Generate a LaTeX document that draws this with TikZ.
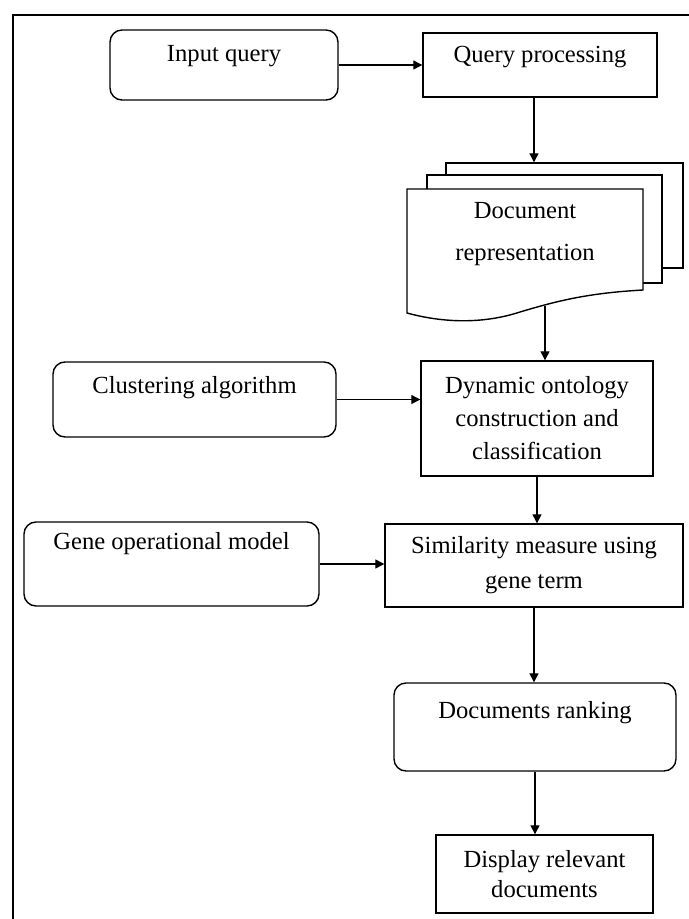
\documentclass[tikz,border=0pt]{standalone}
\usepackage{fontspec}
\setmainfont{Liberation Serif}
\usepackage{tikz}
\usetikzlibrary{arrows.meta}
\tikzstyle{proc}=[rectangle, draw, line width=0.7pt, align=center,
  font=\fontsize{12.3}{16.5}\selectfont, inner sep=2pt]
\tikzstyle{soft}=[proc, rounded corners=6pt, text height=9pt]
\tikzstyle{page}=[rectangle, draw, line width=0.7pt, fill=white]
\tikzstyle{arrow}=[-{Triangle[length=4.5pt,width=4.5pt]}, line width=0.6pt]

\begin{document}
\begin{tikzpicture}[x=0.5pt, y=-0.5pt]
    \useasboundingbox (0,0) rectangle (689,919);

    % frame, cut at the right and bottom
    \draw[line width=1pt] (13,919) -- (13,15) -- (689,15);

    % Row 1: query in, query processing
    \node[soft, minimum width=114pt, minimum height=35pt, text depth=12pt] (inq) at (224,65) {Input query};
    \node[proc, minimum width=117pt, minimum height=32pt, text height=9pt, text depth=11pt] (qp) at (540,65) {Query processing};

    % stacked document pages
    \node[page, minimum width=118.5pt, minimum height=52.5pt] (back) at (564.5,215.5) {};
    \node[page, minimum width=117.5pt, minimum height=54pt] (mid) at (544.5,229) {};
    \draw[line width=0.7pt, fill=white] (407,189) -- (643,189) -- (643,290)
      .. controls (590,293) and (560,300) .. (520,312)
      .. controls (480,325) and (440,322) .. (407,313) -- cycle;
    \node[align=center, font=\fontsize{12.3}{21}\selectfont] (docs) at (525,234) {Document\\ representation};
    \coordinate (docbot) at (545,306);

    % Row 2 and 3: side inputs
    \node[soft, minimum width=141.5pt, minimum height=37.5pt, text depth=15pt] (clus) at (194.5,399.5) {Clustering algorithm};
    \node[proc, minimum width=116pt, minimum height=57.5pt] (dyn) at (537,418.5) {Dynamic ontology\\ construction and\\ classification};
    \node[soft, minimum width=147.5pt, minimum height=42pt, text depth=24pt] (gene) at (171.5,564) {Gene operational model};
    \node[proc, minimum width=149pt, minimum height=41.5pt, font=\fontsize{12.3}{17.5}\selectfont] (sim) at (534,565.5) {Similarity measure using\\ gene term};

    % output
    \node[soft, minimum width=141pt, minimum height=44pt, text depth=18pt] (rank) at (535,727) {Documents ranking};
    \node[proc, minimum width=108.5pt, minimum height=39pt, font=\fontsize{12.3}{15}\selectfont] (disp) at (544.5,874) {Display relevant\\ documents};

    \draw[arrow] (inq.east) -- (qp.west);
    \draw[arrow] ([xshift=-3pt]qp.south) -- ([xshift=-3pt]qp.south |- back.north);
    \draw[arrow] (docbot) -- (docbot |- dyn.north);
    \draw[arrow] (clus.east) -- (clus.east -| dyn.west);
    \draw[arrow] (dyn.south) -- (dyn.south |- sim.north);
    \draw[arrow] (gene.east) -- (gene.east -| sim.west);
    \draw[arrow] (sim.south) -- (sim.south |- rank.north);
    \draw[arrow] (rank.south) -- (rank.south |- disp.north);

  \end{tikzpicture}
\end{document}
